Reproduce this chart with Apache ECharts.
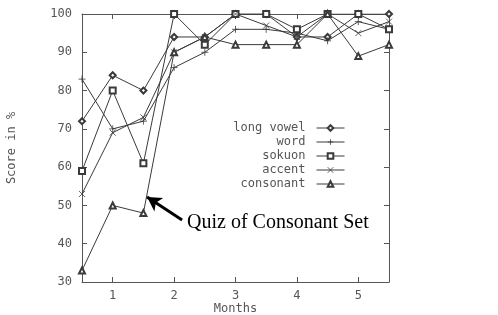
<!DOCTYPE html>
<html><head><meta charset="utf-8">
<script src="https://cdn.jsdelivr.net/npm/echarts@6/dist/echarts.min.js"></script>
<style>html,body{margin:0;padding:0;background:#fff}#c{width:498px;height:315px}</style>
</head><body><div id="c"></div>
<script>
const months = [0.5, 1, 1.5, 2, 2.5, 3, 3.5, 4, 4.5, 5, 5.5];
const longVowel = [72, 84, 80, 94, 94, 100, 100, 94, 94, 100, 100];
const word      = [83, 70, 72, 86, 90, 96, 96, 95, 93, 98, 96];
const sokuon    = [59, 80, 61, 100, 92, 100, 100, 96, 100, 100, 96];
const accent    = [53, 69, 73, 90, 94, 100, 97, 94, 100, 95, 98];
const consonant = [33, 50, 48, 90, 94, 92, 92, 92, 100, 89, 92];
const xTickValues = [1, 2, 3, 4, 5];
const seriesNames = ['long vowel', 'word', 'sokuon', 'accent', 'consonant'];
const annotationText = 'Quiz of Consonant Set';
const arrowFrom = [2.13, 46.2];
const arrowTo = [1.56, 52.2];

const ink = '#3a3a3a';
const font = 'DejaVu Sans Mono';
const symbols = {
  'long vowel': 'emptyDiamond',
  'word': 'path://M0,5L10,5M5,0L5,10',
  'sokuon': 'emptyRect',
  'accent': 'path://M0,0L10,10M10,0L0,10',
  'consonant': 'emptyTriangle'
};
const sizes = {'long vowel': 6, 'word': 7, 'sokuon': 6, 'accent': 6, 'consonant': 6};
const values = [longVowel, word, sokuon, accent, consonant];

const chart = echarts.init(document.getElementById('c'), null, {renderer: 'canvas'});

const axisLine = {show: true, lineStyle: {color: '#555', width: 1}};
const series = seriesNames.map((n, i) => ({
  name: n, type: 'line',
  data: months.map((m, j) => [m, values[i][j]]),
  symbol: symbols[n], symbolSize: sizes[n],
  lineStyle: {color: ink, width: 1},
  itemStyle: {color: ink, borderColor: ink, borderWidth: 0.8},
  emphasis: {disabled: true},
  animation: false,
  z: 3
}));
series[4].markLine = {
  silent: true, animation: false,
  symbol: ['none', 'arrow'], symbolSize: [12, 14],
  lineStyle: {color: '#000', width: 3, type: 'solid'},
  label: {show: false},
  data: [[{coord: arrowFrom}, {coord: arrowTo}]]
};

const legends = seriesNames.map((n, i) => ({
  data: [n], right: 153, top: 122 + i * 14,
  align: 'right', orient: 'vertical',
  itemWidth: 28, itemHeight: 7, itemGap: 0,
  selectedMode: false, padding: 0,
  itemStyle: {borderWidth: 0.8},
  lineStyle: {width: 1},
  textStyle: {fontFamily: font, fontSize: 12, color: '#555', padding: [0, 6, 0, 0]}
}));

chart.setOption({
  animation: false,
  backgroundColor: '#fff',
  grid: {left: 82, right: 109, top: 14, bottom: 33, outerBoundsMode: 'none', containLabel: false},
  legend: legends,
  xAxis: [{
    type: 'value', min: 0.5, max: 5.5,
    name: 'Months', nameLocation: 'middle', nameGap: 21, nameMoveOverlap: false,
    nameTextStyle: {fontFamily: font, fontSize: 12, color: '#555'},
    axisLine: axisLine, splitLine: {show: false},
    axisTick: {show: true, inside: true, length: 5, customValues: xTickValues, lineStyle: {color: '#555'}},
    axisLabel: {customValues: xTickValues, fontFamily: font, fontSize: 12, color: '#555', margin: 8}
  }, {
    type: 'value', min: 0.5, max: 5.5, position: 'top',
    axisLine: axisLine, splitLine: {show: false},
    axisTick: {show: true, inside: true, length: 5, customValues: xTickValues, lineStyle: {color: '#555'}},
    axisLabel: {show: false}
  }],
  yAxis: [{
    type: 'value', min: 30, max: 100, interval: 10,
    name: 'Score in %', nameLocation: 'middle', nameGap: 64, nameRotate: 90, nameMoveOverlap: false,
    nameTextStyle: {fontFamily: font, fontSize: 12, color: '#555'},
    axisLine: axisLine, splitLine: {show: false},
    axisTick: {show: true, inside: true, length: 5, lineStyle: {color: '#555'}},
    axisLabel: {fontFamily: font, fontSize: 12, color: '#555', margin: 10}
  }, {
    type: 'value', min: 30, max: 100, interval: 10, position: 'right',
    axisLine: axisLine, splitLine: {show: false},
    axisTick: {show: true, inside: true, length: 5, lineStyle: {color: '#555'}},
    axisLabel: {show: false}
  }],
  series: series
});

const p = chart.convertToPixel({gridIndex: 0}, arrowFrom);
chart.setOption({
  graphic: [{
    type: 'text', left: p[0] + 5, top: p[1] - 7, silent: true,
    style: {text: annotationText, font: '20px "Liberation Serif"', fill: '#000'}
  }]
});
</script></body></html>
